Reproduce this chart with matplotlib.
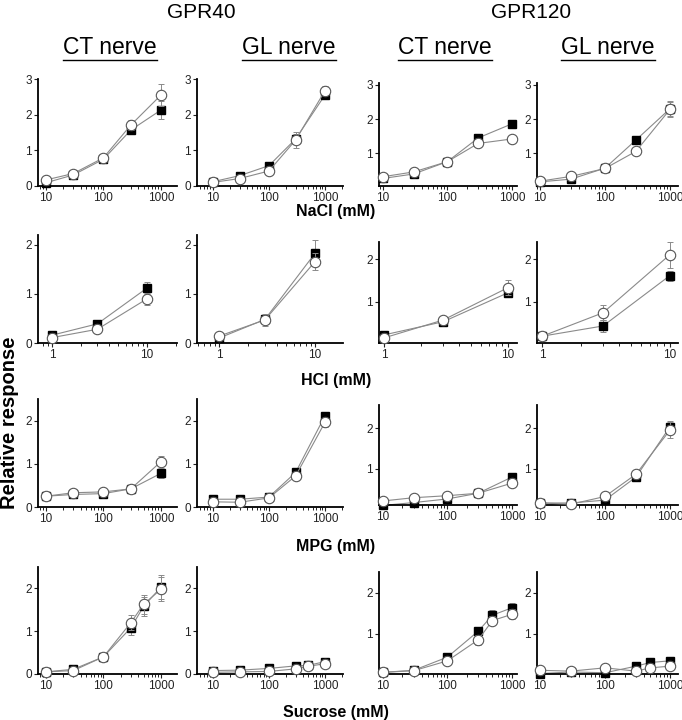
import numpy as np
import matplotlib.pyplot as plt
from matplotlib.lines import Line2D
from matplotlib.ticker import LogLocator, NullFormatter, FixedLocator

plt.rcParams['font.family'] = ['Liberation Sans', 'DejaVu Sans']

W, H = 682, 720

# concentrations (mM)
nacl_conc = [10, 30, 100, 300, 1000]
hcl_conc = [1, 3, 10]
mpg_conc = [10, 30, 100, 300, 1000]
sucrose_conc = [10, 30, 100, 300, 500, 1000]

# panel order: GPR40 CT, GPR40 GL, GPR120 CT, GPR120 GL
# filled squares
nacl_sq = [[0.09, 0.31, 0.75, 1.57, 2.13],
           [0.12, 0.29, 0.57, 1.32, 2.55],
           [0.27, 0.40, 0.76, 1.45, 1.86],
           [0.17, 0.25, 0.57, 1.39, 2.30]]
nacl_sq_err = [[0.03, 0.04, 0.05, 0.10, 0.26],
               [0.02, 0.03, 0.05, 0.15, 0.08],
               [0.03, 0.04, 0.05, 0.06, 0.12],
               [0.03, 0.04, 0.05, 0.07, 0.22]]
# open circles
nacl_ci = [[0.17, 0.35, 0.79, 1.71, 2.55],
           [0.10, 0.21, 0.42, 1.29, 2.67],
           [0.32, 0.46, 0.76, 1.29, 1.42],
           [0.19, 0.33, 0.56, 1.06, 2.28]]
nacl_ci_err = [[0.04, 0.04, 0.05, 0.15, 0.30],
               [0.02, 0.03, 0.05, 0.22, 0.13],
               [0.07, 0.05, 0.05, 0.05, 0.05],
               [0.06, 0.07, 0.07, 0.06, 0.22]]

hcl_sq = [[0.16, 0.39, 1.12],
          [0.10, 0.48, 1.83],
          [0.22, 0.53, 1.21],
          [0.19, 0.43, 1.61]]
hcl_sq_err = [[0.03, 0.05, 0.13],
              [0.02, 0.10, 0.27],
              [0.04, 0.05, 0.10],
              [0.04, 0.15, 0.12]]
hcl_ci = [[0.11, 0.28, 0.90],
          [0.14, 0.47, 1.66],
          [0.15, 0.57, 1.33],
          [0.19, 0.74, 2.10]]
hcl_ci_err = [[0.03, 0.04, 0.12],
              [0.04, 0.13, 0.17],
              [0.05, 0.06, 0.17],
              [0.05, 0.17, 0.30]]

mpg_sq = [[0.25, 0.29, 0.31, 0.42, 0.78],
          [0.18, 0.18, 0.23, 0.80, 2.11],
          [0.09, 0.16, 0.25, 0.39, 0.79],
          [0.15, 0.15, 0.22, 0.79, 2.03]]
mpg_sq_err = [[0.03, 0.03, 0.03, 0.04, 0.10],
              [0.03, 0.03, 0.03, 0.05, 0.10],
              [0.03, 0.03, 0.03, 0.04, 0.05],
              [0.03, 0.03, 0.04, 0.07, 0.15]]
mpg_ci = [[0.25, 0.33, 0.35, 0.42, 1.05],
          [0.12, 0.11, 0.21, 0.72, 1.96],
          [0.20, 0.28, 0.33, 0.39, 0.64],
          [0.15, 0.12, 0.31, 0.86, 1.95]]
mpg_ci_err = [[0.04, 0.04, 0.04, 0.04, 0.14],
              [0.03, 0.03, 0.04, 0.05, 0.10],
              [0.05, 0.05, 0.05, 0.05, 0.04],
              [0.04, 0.04, 0.05, 0.10, 0.20]]

sucrose_sq = [[0.05, 0.11, 0.40, 1.08, 1.58, 2.03],
              [0.08, 0.09, 0.13, 0.19, 0.20, 0.29],
              [0.06, 0.11, 0.43, 1.06, 1.45, 1.63],
              [0.03, 0.07, 0.05, 0.21, 0.30, 0.34]]
sucrose_sq_err = [[0.02, 0.03, 0.03, 0.17, 0.22, 0.28],
                  [0.02, 0.02, 0.03, 0.03, 0.04, 0.04],
                  [0.02, 0.03, 0.04, 0.08, 0.12, 0.12],
                  [0.02, 0.02, 0.02, 0.03, 0.03, 0.03]]
sucrose_ci = [[0.05, 0.08, 0.40, 1.20, 1.63, 1.98],
              [0.04, 0.05, 0.06, 0.12, 0.18, 0.24],
              [0.06, 0.10, 0.34, 0.85, 1.32, 1.47],
              [0.11, 0.09, 0.17, 0.09, 0.17, 0.21]]
sucrose_ci_err = [[0.02, 0.03, 0.03, 0.17, 0.22, 0.28],
                  [0.02, 0.03, 0.03, 0.04, 0.05, 0.05],
                  [0.03, 0.04, 0.04, 0.12, 0.10, 0.12],
                  [0.05, 0.05, 0.04, 0.05, 0.05, 0.05]]

stim_names = ["NaCl (mM)", "HCl (mM)", "MPG (mM)", "Sucrose (mM)"]
receptors = ["GPR40", "GPR120"]
nerves = ["CT nerve", "GL nerve", "CT nerve", "GL nerve"]

# pixel boxes (left, top, right, bottom) and limits for each panel
col_x = [(38, 177), (197, 343), (379, 517), (537, 678)]
row_y40 = [(79, 186), (235, 343), (399, 507), (567, 674)]
row_y120 = [(83, 186), (242, 343), (405, 505), (572, 674)]
ylims40 = [(0, 3), (0, 2.2), (0, 2.5), (0, 2.5)]
ylims120 = [(0.05, 3.05), (0.03, 2.4), (0.1, 2.57), (0.02, 2.5)]
xlims_log = [(7.3, 1900), (5.2, 2100), (8.7, 1200), (9.0, 1330)]
xlims_hcl = [(0.71, 20.7), (0.59, 19.5), (0.91, 11.8), (0.91, 11.6)]


def add_axes_px(fig, l, t, r, b):
    return fig.add_axes([l / W, 1 - b / H, (r - l) / W, (b - t) / H])


def main():
    fig = plt.figure(figsize=(W / 100, H / 100), dpi=100)

    rows = [(nacl_conc, nacl_sq, nacl_sq_err, nacl_ci, nacl_ci_err),
            (hcl_conc, hcl_sq, hcl_sq_err, hcl_ci, hcl_ci_err),
            (mpg_conc, mpg_sq, mpg_sq_err, mpg_ci, mpg_ci_err),
            (sucrose_conc, sucrose_sq, sucrose_sq_err, sucrose_ci, sucrose_ci_err)]

    for r, (conc, sq, sq_err, ci, ci_err) in enumerate(rows):
        for c in range(4):
            gpr120 = c >= 2
            t, b = (row_y120 if gpr120 else row_y40)[r]
            l, rr = col_x[c]
            ax = add_axes_px(fig, l, t, rr, b)
            ax.set_xscale('log')
            ax.set_xlim(*(xlims_hcl[c] if r == 1 else xlims_log[c]))
            ax.set_ylim(*(ylims120 if gpr120 else ylims40)[r])

            ax.errorbar(conc, sq[c], yerr=sq_err[c], fmt='-', color='#8a8a8a',
                        lw=0.8, elinewidth=0.7, capsize=2, capthick=0.7,
                        clip_on=False, zorder=2)
            ax.plot(conc, sq[c], 's', color='black', ms=5.6, clip_on=False, zorder=3)
            ax.errorbar(conc, ci[c], yerr=ci_err[c], fmt='-', color='#8a8a8a',
                        lw=0.8, elinewidth=0.7, capsize=2, capthick=0.7,
                        clip_on=False, zorder=4)
            ax.plot(conc, ci[c], 'o', mfc='white', mec='#555555', mew=0.8,
                    ms=7.5, clip_on=False, zorder=5)

            for side in ('top', 'right'):
                ax.spines[side].set_visible(False)
            for side in ('left', 'bottom'):
                ax.spines[side].set_linewidth(1.3)

            ax.xaxis.set_major_locator(LogLocator(base=10))
            ax.xaxis.set_minor_locator(LogLocator(base=10, subs=np.arange(2, 10)))
            ax.xaxis.set_minor_formatter(NullFormatter())
            ax.set_xticks(hcl_conc[::2] if r == 1 else [10, 100, 1000])
            ax.set_xticklabels(['1', '10'] if r == 1 else ['10', '100', '1000'])

            top = 3 if r == 0 else 2
            yt = list(range(1 if gpr120 else 0, top + 1))
            ax.yaxis.set_major_locator(FixedLocator(yt))
            ax.set_yticklabels([str(v) for v in yt])
            ax.tick_params(axis='both', which='major', labelsize=8.5, length=3,
                           width=0.8, pad=1.5, colors='#222222')
            ax.tick_params(axis='x', which='minor', length=1.8, width=0.6)

        fig.text(336 / W, 1 - [211, 380, 547, 712][r] / H, stim_names[r],
                 ha='center', va='center', fontsize=11.5, fontweight='bold')

    fig.text(10 / W, 1 - 423 / H, "Relative response", rotation=90,
             ha='center', va='center', fontsize=14.5, fontweight='bold')

    for xc, label in zip([201, 531], receptors):
        fig.text(xc / W, 1 - 12 / H, label, ha='center', va='center', fontsize=15)

    renderer = fig.canvas.get_renderer()
    for xc, label in zip([110, 289, 445, 608], nerves):
        txt = fig.text(xc / W, 1 - 47 / H, label, ha='center', va='center',
                       fontsize=16.5)
        bb = txt.get_window_extent(renderer)
        y_line = bb.y0 - 1
        fig.add_artist(Line2D([bb.x0 / W, bb.x1 / W], [y_line / H, y_line / H],
                              color='black', lw=1.0))

    fig.savefig("out.png", dpi=100)


if __name__ == "__main__":
    main()
